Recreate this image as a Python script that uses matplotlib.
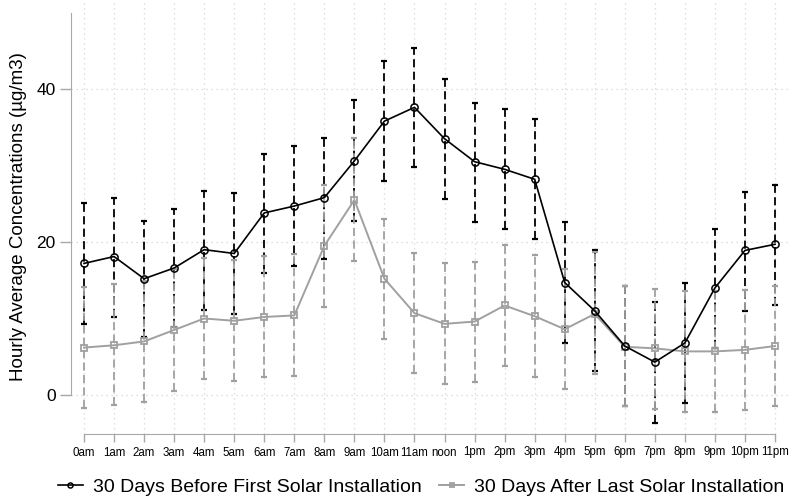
import matplotlib
matplotlib.use("Agg")
import matplotlib.pyplot as plt
import numpy as np

plt.rcParams["font.family"] = ["Liberation Sans", "DejaVu Sans"]

# ── data ─────────────────────────────────────────────────────
hours = ["0am", "1am", "2am", "3am", "4am", "5am", "6am", "7am", "8am", "9am",
         "10am", "11am", "noon", "1pm", "2pm", "3pm", "4pm", "5pm", "6pm", "7pm",
         "8pm", "9pm", "10pm", "11pm"]

before_mean = [17.2, 18.1, 15.2, 16.6, 19.0, 18.5, 23.8, 24.7, 25.8, 30.6, 35.8, 37.6,
               33.5, 30.5, 29.5, 28.2, 14.7, 11.0, 6.4, 4.3, 6.8, 14.0, 18.9, 19.7]
before_hi = [25.1, 25.8, 22.8, 24.3, 26.7, 26.4, 31.5, 32.5, 33.6, 38.5, 43.7, 45.4,
             41.3, 38.2, 37.4, 36.1, 22.6, 18.9, 14.3, 12.2, 14.7, 21.7, 26.6, 27.5]
before_lo = [9.3, 10.2, 7.6, 8.9, 11.1, 10.6, 15.9, 16.9, 17.8, 22.7, 28.0, 29.8,
             25.6, 22.6, 21.7, 20.4, 6.8, 3.1, -1.5, -3.6, -1.1, 6.2, 11.0, 11.8]

after_mean = [6.2, 6.5, 7.0, 8.5, 10.0, 9.7, 10.2, 10.4, 19.5, 25.5, 15.2, 10.7,
              9.3, 9.6, 11.7, 10.3, 8.6, 10.6, 6.3, 6.1, 5.7, 5.7, 5.9, 6.4]
after_hi = [14.1, 14.5, 14.9, 16.5, 17.9, 17.6, 18.2, 18.4, 27.4, 33.6, 23.0, 18.6,
            17.2, 17.4, 19.6, 18.3, 16.5, 18.7, 14.2, 13.9, 13.6, 13.6, 13.7, 14.2]
after_lo = [-1.7, -1.3, -0.9, 0.5, 2.1, 1.8, 2.4, 2.5, 11.5, 17.5, 7.3, 2.9,
            1.4, 1.7, 3.8, 2.4, 0.8, 2.7, -1.5, -1.8, -2.2, -2.2, -2.0, -1.5]

x = np.arange(len(hours))

GRAY = "#a0a0a0"
AXC = "#a8a8a8"

fig = plt.figure(figsize=(7.9, 5.03), dpi=100)
ax = fig.add_axes([71 / 790, 69 / 503, 717 / 790, 434 / 503])


def draw_bars(mean, lo, hi, color, z):
    mean = np.array(mean)
    err = [mean - np.array(lo), np.array(hi) - mean]
    cont = ax.errorbar(x, mean, yerr=err, fmt="none", ecolor=color, elinewidth=1.3,
                       capsize=2.3, capthick=1.6, zorder=z)
    cont[2][0].set_linestyle((0, (4.5, 2.4)))


# ── error bars (dashed, capped) ──────────────────────────────
draw_bars(before_mean, before_lo, before_hi, "black", 2)
draw_bars(after_mean, after_lo, after_hi, GRAY, 3)

# ── connected lines ──────────────────────────────────────────
ax.plot(x, after_mean, color=GRAY, lw=1.4, marker="s", ms=5.0, mfc="none",
        mec=GRAY, mew=1.3, zorder=4, label="30 Days After Last Solar Installation")
ax.plot(x, before_mean, color="black", lw=1.2, marker="o", ms=5.2, mfc="none",
        mec="black", mew=1.1, zorder=5, label="30 Days Before First Solar Installation")

# ── axes ─────────────────────────────────────────────────────
px_x = 30.07
ax.set_xlim(-13 / px_x, 23 + 13 / px_x)
ax.set_ylim(-39 / 7.65, 395 / 7.65)

ax.set_xticks(x)
ax.set_xticklabels(hours, fontsize=8.3)
ax.set_yticks([0, 20, 40])
ax.tick_params(axis="y", labelsize=12.5, length=8, color=AXC, width=1, pad=3)
ax.tick_params(axis="x", length=6, color=AXC, width=1, pad=3)

for s in ["top", "right"]:
    ax.spines[s].set_visible(False)
ax.spines["left"].set_bounds(0, 50)
ax.spines["bottom"].set_bounds(0, 23)
ax.spines["left"].set_color(AXC)
ax.spines["bottom"].set_color(AXC)

ax.grid(True, color="#d4d4d4", linestyle=(0, (1, 3)), lw=0.9)
ax.set_axisbelow(True)

ax.set_ylabel("Hourly Average Concentrations (µg/m3)", fontsize=13.5, labelpad=7)

# legend: before first, after second
h, l = ax.get_legend_handles_labels()
fig.legend(h[::-1], l[::-1], loc="center", bbox_to_anchor=(421 / 790, 1 - 487 / 503),
           ncol=2, frameon=False, fontsize=14, handlelength=1.3, handletextpad=0.5,
           columnspacing=0.9, markerscale=0.7)

fig.savefig("out.png", dpi=100, facecolor="white")
